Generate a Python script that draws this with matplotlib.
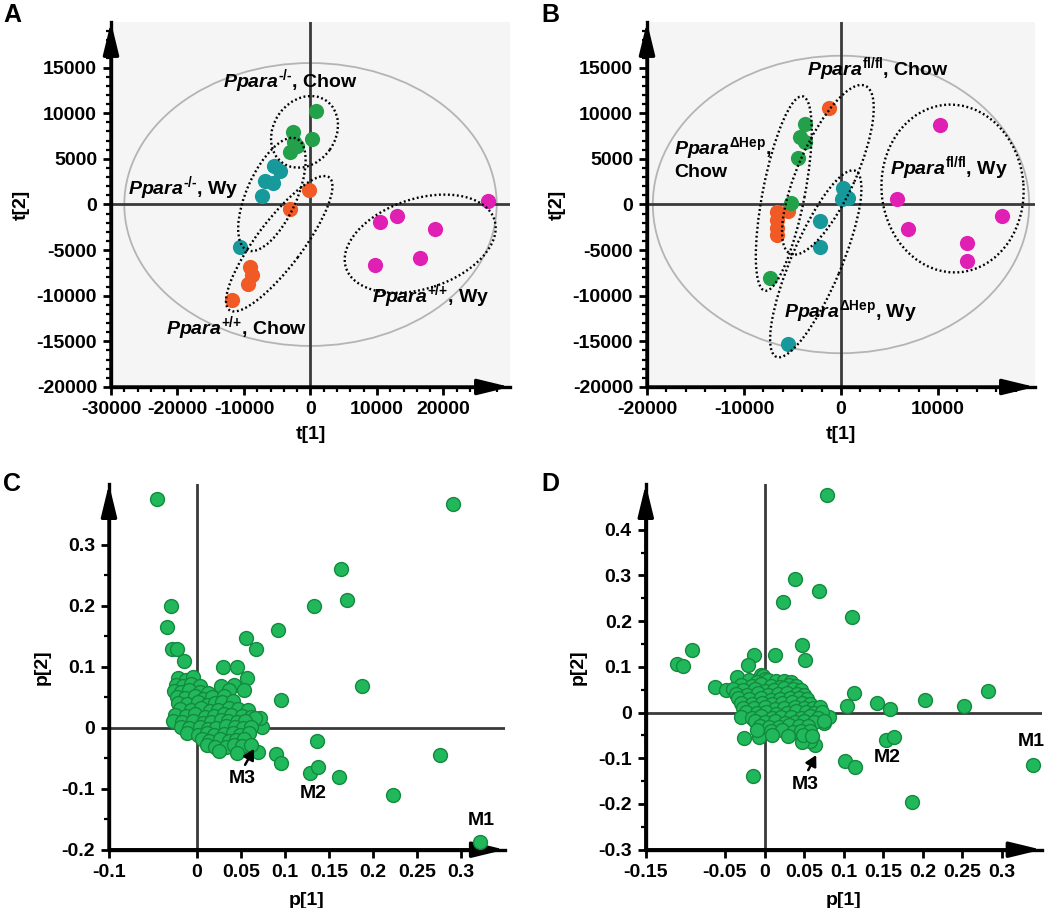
import matplotlib
matplotlib.use("Agg")
import matplotlib.pyplot as plt
import matplotlib.transforms as mtransforms
from matplotlib.patches import Ellipse

plt.rcParams['font.family'] = ['Liberation Sans', 'DejaVu Sans']
plt.rcParams['font.weight'] = 'bold'
plt.rcParams['axes.labelweight'] = 'bold'
plt.rcParams['axes.unicode_minus'] = False
plt.rcParams['mathtext.fontset'] = 'custom'
plt.rcParams['mathtext.it'] = 'Liberation Sans:italic:bold'
plt.rcParams['mathtext.rm'] = 'Liberation Sans:bold'
plt.rcParams['mathtext.bf'] = 'Liberation Sans:bold'

# ---- Panel A scores (t[1], t[2]) ----
a_ko_chow_t1 = [900, -2600, 250, -2000, -3100, -2500]
a_ko_chow_t2 = [10250, 7960, 7160, 6440, 5710, 6900]
a_ko_wy_t1 = [-5510, -4610, -6770, -5610, -7270, -10530]
a_ko_wy_t2 = [4180, 3710, 2620, 2330, 980, -4650]
a_wt_chow_t1 = [-250, -3100, -9120, -8770, -9420, -11780]
a_wt_chow_t2 = [1600, -545, -6840, -7750, -8760, -10470]
a_wt_wy_t1 = [26720, 10430, 13030, 18650, 16440, 9670]
a_wt_wy_t2 = [330, -1930, -1310, -2730, -5850, -6650]

# ---- Panel B scores ----
b_fl_chow_t1 = [-1240, -6575, -5440, -6575, -6640, -6640]
b_fl_chow_t2 = [10620, -836, -730, -1745, -2580, -3380]
b_hep_chow_t1 = [-3720, -4200, -3720, -4410, -5160, -7330]
b_hep_chow_t2 = [8870, 7350, 6800, 5090, 180, -8110]
b_hep_wy_t1 = [240, 760, 70, -2170, -2170, -5440]
b_hep_wy_t2 = [1780, 730, 620, -1820, -4650, -15270]
b_fl_wy_t1 = [10220, 5750, 6950, 16590, 12980, 12980]
b_fl_wy_t2 = [8690, 620, -2690, -1310, -4180, -6220]

# ---- Panel C loadings (p[1], p[2]) ----
c_p1 = [-0.045, 0.291, 0.164, 0.170, 0.133, -0.029, -0.034, 0.092, 0.056, 0.067,
        -0.028, -0.023, -0.015, 0.030, 0.045, 0.057, 0.042, 0.188, 0.096, 0.054,
        0.074, 0.072, 0.136, 0.090, 0.096, 0.129, 0.138, 0.162, 0.276, 0.223,
        0.322, 0.069, 0.057, 0.027, 0.036,
        -0.021, -0.012, -0.005,
        -0.024, -0.016, -0.007, 0.003,
        -0.026, -0.018, -0.009, 0.004, 0.013,
        -0.023, -0.014, -0.002, 0.007, 0.017, 0.031,
        -0.021, -0.011, 0.001, 0.011, 0.021, 0.029, 0.041,
        -0.019, -0.007, 0.005, 0.015, 0.024, 0.036, 0.047, 0.058,
        -0.025, -0.013, -0.002, 0.009, 0.019, 0.031, 0.039, 0.051, 0.062, 0.066,
        -0.027, -0.017, -0.004, 0.007, 0.016, 0.027, 0.035, 0.046, 0.055,
        -0.018, -0.009, 0.003, 0.013, 0.022, 0.033, 0.043, 0.052, 0.061,
        -0.011, 0.001, 0.011, 0.019, 0.031, 0.041, 0.049, 0.059,
        0.006, 0.014, 0.026, 0.036, 0.044, 0.054,
        0.011, 0.021, 0.033, 0.042, 0.051, 0.061,
        0.025, 0.045]
c_p2 = [0.375, 0.367, 0.260, 0.210, 0.200, 0.200, 0.165, 0.160, 0.148, 0.129,
        0.129, 0.129, 0.110, 0.100, 0.100, 0.081, 0.070, 0.069, 0.045, 0.062,
        0.002, 0.016, -0.021, -0.043, -0.058, -0.074, -0.065, -0.081, -0.045, -0.110,
        -0.187, -0.040, -0.032, 0.068, 0.062,
        0.081, 0.079, 0.083,
        0.071, 0.069, 0.072, 0.068,
        0.061, 0.058, 0.062, 0.059, 0.057,
        0.051, 0.049, 0.052, 0.048, 0.050, 0.053,
        0.041, 0.039, 0.042, 0.038, 0.041, 0.043, 0.044,
        0.031, 0.029, 0.032, 0.028, 0.030, 0.033, 0.031, 0.029,
        0.021, 0.019, 0.022, 0.018, 0.020, 0.023, 0.021, 0.019, 0.018, 0.016,
        0.011, 0.009, 0.012, 0.008, 0.010, 0.013, 0.011, 0.009, 0.012,
        0.001, -0.001, 0.002, -0.002, 0.000, 0.003, 0.001, -0.001, 0.002,
        -0.009, -0.011, -0.008, -0.012, -0.010, -0.009, -0.011, -0.008,
        -0.019, -0.021, -0.018, -0.022, -0.020, -0.019,
        -0.029, -0.031, -0.032, -0.028, -0.030, -0.029,
        -0.038, -0.041]

# ---- Panel D loadings ----
d_p1 = [0.079, 0.039, 0.069, 0.023, 0.111, 0.047, 0.051, -0.092, -0.111, -0.103,
        -0.013, -0.021, 0.013, -0.035, -0.005, -0.062, -0.049, 0.113, 0.104, 0.142,
        0.158, 0.203, 0.252, 0.282, 0.081, 0.075, 0.154, 0.163, 0.102, 0.114,
        0.186, 0.339, -0.014, -0.026, -0.007, 0.064, 0.058, 0.047,
        -0.002, 0.001,
        -0.020, -0.010, 0.005, 0.014, 0.025, 0.033,
        -0.030, -0.016, -0.004, 0.008, 0.020, 0.031, 0.040,
        -0.040, -0.027, -0.012, 0.000, 0.012, 0.024, 0.036, 0.046,
        -0.036, -0.022, -0.008, 0.004, 0.017, 0.029, 0.041, 0.050,
        -0.033, -0.019, -0.005, 0.008, 0.020, 0.032, 0.044, 0.054,
        -0.030, -0.016, -0.003, 0.010, 0.022, 0.035, 0.047, 0.058,
        -0.027, -0.013, 0.000, 0.013, 0.025, 0.038, 0.050, 0.061, 0.070,
        -0.024, -0.010, 0.002, 0.015, 0.028, 0.040, 0.052, 0.063, 0.072,
        -0.030, -0.016, -0.004, 0.009, 0.021, 0.034, 0.046, 0.058, 0.068,
        -0.012, 0.000, 0.013, 0.026, 0.038, 0.050, 0.062, 0.075,
        -0.006, 0.006, 0.018, 0.031, 0.043, 0.055,
        -0.009, 0.008, 0.022, 0.036, 0.046, 0.057,
        0.010, 0.030, 0.048, 0.060]
d_p2 = [0.476, 0.292, 0.265, 0.242, 0.210, 0.147, 0.116, 0.138, 0.106, 0.102,
        0.127, 0.105, 0.125, 0.078, 0.082, 0.055, 0.049, 0.043, 0.015, 0.021,
        0.007, 0.027, 0.015, 0.047, -0.010, -0.022, -0.060, -0.053, -0.106, -0.120,
        -0.196, -0.114, -0.138, -0.055, -0.053, -0.071, -0.062, -0.064,
        0.079, 0.074,
        0.071, 0.068, 0.072, 0.069, 0.070, 0.067,
        0.061, 0.058, 0.062, 0.059, 0.057, 0.060, 0.058,
        0.051, 0.049, 0.052, 0.048, 0.050, 0.053, 0.051, 0.049,
        0.041, 0.039, 0.042, 0.038, 0.041, 0.043, 0.040, 0.039,
        0.031, 0.029, 0.032, 0.028, 0.030, 0.033, 0.031, 0.029,
        0.021, 0.019, 0.022, 0.018, 0.020, 0.023, 0.021, 0.019,
        0.011, 0.009, 0.012, 0.008, 0.010, 0.013, 0.011, 0.009, 0.012,
        0.001, -0.001, 0.002, -0.002, 0.000, 0.003, 0.001, -0.001, 0.002,
        -0.009, -0.011, -0.008, -0.012, -0.010, -0.009, -0.011, -0.008, -0.012,
        -0.019, -0.021, -0.018, -0.022, -0.020, -0.019, -0.021, -0.018,
        -0.029, -0.031, -0.032, -0.028, -0.030, -0.029,
        -0.039, -0.041, -0.038, -0.042, -0.040, -0.041,
        -0.049, -0.051, -0.048, -0.052]

# tick values
a_xticks = [-30000, -20000, -10000, 0, 10000, 20000]
b_xticks = [-20000, -10000, 0, 10000]
ab_yticks = [-20000, -15000, -10000, -5000, 0, 5000, 10000, 15000]
c_xticks = [-0.1, 0, 0.05, 0.1, 0.15, 0.2, 0.25, 0.3]
c_yticks = [-0.2, -0.1, 0, 0.1, 0.2, 0.3]
d_xticks = [-0.15, -0.05, 0, 0.05, 0.1, 0.15, 0.2, 0.25, 0.3]
d_yticks = [-0.3, -0.2, -0.1, 0, 0.1, 0.2, 0.3, 0.4]

# Hotelling T2 ellipses (data units: half width, half height)
a_t2_radius = (28000, 15500)
b_t2_radius = (19400, 16300)

# hand drawn group rings: centre (data), semi axes (px), tilt (deg)
a_ring_center = [(-900, 7960), (-5800, 1100), (-4700, -4300), (16500, -4300)]
a_ring_axes = [(38, 31, 55), (61, 25, 66), (83, 23, 53), (78, 45, 18)]
b_ring_center = [(-5900, 1200), (-1350, 3800), (-2600, -6500), (11500, 1750)]
b_ring_axes = [(99, 21, 79), (92, 29, 66), (101, 25, 67), (84, 71, 95)]

green = '#22a04a'
teal = '#17999b'
orange = '#f15a24'
magenta = '#e020b2'
load_face = '#20b85a'
load_edge = '#138a3e'

fig = plt.figure(figsize=(10.5, 9.08), dpi=100)
ax_a = fig.add_axes([0.1057, 0.5738, 0.380, 0.402])
ax_b = fig.add_axes([0.6162, 0.5738, 0.3695, 0.402])
ax_c = fig.add_axes([0.1038, 0.0642, 0.377, 0.4027])
ax_d = fig.add_axes([0.6150, 0.0642, 0.377, 0.4027])


def fmt(v):
    return '%g' % v


def style_axes(ax, gray, xt, yt):
    ax.set_facecolor('#f5f5f5' if gray else 'white')
    ax.spines['top'].set_visible(False)
    ax.spines['right'].set_visible(False)
    ax.spines['left'].set_linewidth(2.4)
    ax.spines['bottom'].set_linewidth(2.4)
    ax.set_xticks(xt, labels=[fmt(v) for v in xt], fontweight='bold')
    ax.set_yticks(yt, labels=[fmt(v) for v in yt], fontweight='bold')
    ax.tick_params(which='major', length=6, width=2, labelsize=14, pad=4)
    ax.tick_params(which='minor', length=3.5, width=1.6)
    ax.axhline(0, color='#3a3a3a', lw=2, zorder=1.5)
    ax.axvline(0, color='#3a3a3a', lw=2, zorder=1.5)
    arrow = dict(arrowstyle='-|>,head_length=1.4,head_width=0.34', lw=2.4,
                 color='k', shrinkA=0, shrinkB=0, mutation_scale=14)
    ax.annotate('', xy=(0, 1.0), xytext=(0, 0), xycoords='axes fraction',
                arrowprops=arrow, annotation_clip=False)
    ax.annotate('', xy=(1.0, 0), xytext=(0, 0), xycoords='axes fraction',
                arrowprops=arrow, annotation_clip=False)


def ring(ax, center, axes_px):
    a, b, ang = axes_px
    tr = (mtransforms.Affine2D().scale(fig.dpi / 100)
          + mtransforms.ScaledTranslation(center[0], center[1], ax.transData))
    ax.add_patch(Ellipse((0, 0), 2 * a, 2 * b, angle=ang, transform=tr, fill=False,
                         color='k', lw=1.7, ls=(0, (0.8, 1.1)), zorder=4))


def small_arrow(ax, tail, head):
    ax.annotate('', xy=head, xytext=tail, zorder=5,
                arrowprops=dict(arrowstyle='-|>,head_length=0.45,head_width=0.25', color='k',
                                lw=1.8, shrinkA=0, shrinkB=0, mutation_scale=14))


HY = '\u2010'
ko = r'$\mathit{Ppara}^{\mathrm{' + HY + '/' + HY + '}}$'
wt = r'$\mathit{Ppara}^{\mathrm{{+}/{+}}}$'
fl = r'$\mathit{Ppara}^{\mathrm{fl/fl}}$'
hep = r'$\mathit{Ppara}^{\mathrm{\Delta Hep}}$'

# ---------------- A ----------------
ax = ax_a
ax.set_xlim(-30000, 30000)
ax.set_ylim(-20000, 20000)
style_axes(ax, True, a_xticks, ab_yticks)
ax.set_xticks(range(-30000, 30000, 2000), minor=True)
ax.set_yticks(range(-20000, 20000, 1000), minor=True)
ax.add_patch(Ellipse((0, 0), 2 * a_t2_radius[0], 2 * a_t2_radius[1], fill=False,
                     color='#b4b4b4', lw=1.3, zorder=1))
ax.scatter(a_ko_chow_t1, a_ko_chow_t2, s=120, color=green, lw=0, zorder=3)
ax.scatter(a_ko_wy_t1, a_ko_wy_t2, s=120, color=teal, lw=0, zorder=3)
ax.scatter(a_wt_chow_t1, a_wt_chow_t2, s=120, color=orange, lw=0, zorder=3)
ax.scatter(a_wt_wy_t1, a_wt_wy_t2, s=120, color=magenta, lw=0, zorder=3)
for c, e in zip(a_ring_center, a_ring_axes):
    ring(ax, c, e)
ax.text(-13100, 13500, ko + ', Chow', fontsize=14, va='center', zorder=5)
ax.text(-27400, 1750, ko + ', Wy', fontsize=14, va='center', zorder=5)
ax.text(-21700, -13500, wt + ', Chow', fontsize=14, va='center', zorder=5)
ax.text(9200, -10050, wt + ', Wy', fontsize=14, va='center', zorder=5)
ax.set_xlabel('t[1]', fontsize=14, labelpad=6)
ax.set_ylabel('t[2]', fontsize=14, labelpad=5)

# ---------------- B ----------------
ax = ax_b
ax.set_xlim(-20000, 20000)
ax.set_ylim(-20000, 20000)
style_axes(ax, True, b_xticks, ab_yticks)
ax.set_xticks(range(-20000, 20000, 2000), minor=True)
ax.set_yticks(range(-20000, 20000, 1000), minor=True)
ax.add_patch(Ellipse((0, 0), 2 * b_t2_radius[0], 2 * b_t2_radius[1], fill=False,
                     color='#b4b4b4', lw=1.3, zorder=1))
ax.scatter(b_fl_chow_t1, b_fl_chow_t2, s=120, color=orange, lw=0, zorder=3)
ax.scatter(b_hep_chow_t1, b_hep_chow_t2, s=120, color=green, lw=0, zorder=3)
ax.scatter(b_hep_wy_t1, b_hep_wy_t2, s=120, color=teal, lw=0, zorder=3)
ax.scatter(b_fl_wy_t1, b_fl_wy_t2, s=120, color=magenta, lw=0, zorder=3)
for c, e in zip(b_ring_center, b_ring_axes):
    ring(ax, c, e)
ax.text(-3500, 14850, fl + ', Chow', fontsize=14, va='center', zorder=5)
ax.text(-17200, 6200, hep + ',', fontsize=14, va='center', zorder=5)
ax.text(-17200, 3500, 'Chow', fontsize=14, va='center', zorder=5)
ax.text(5100, 4040, fl + ', Wy', fontsize=14, va='center', zorder=5)
ax.text(-5900, -11700, hep + ', Wy', fontsize=14, va='center', zorder=5)
ax.set_xlabel('t[1]', fontsize=14, labelpad=6)
ax.set_ylabel('t[2]', fontsize=14, labelpad=5)

# ---------------- C ----------------
ax = ax_c
ax.set_xlim(-0.1, 0.35)
ax.set_ylim(-0.2, 0.4)
style_axes(ax, False, c_xticks, c_yticks)
ax.set_yticks([-0.15, -0.05, 0.05, 0.15, 0.25, 0.35], minor=True)
ax.scatter(c_p1, c_p2, s=100, color=load_face, edgecolor=load_edge, lw=1, zorder=3, clip_on=False)
small_arrow(ax, (0.0547, -0.0607), (0.0649, -0.0344))
ax.text(0.051, -0.0825, 'M3', fontsize=14, ha='center', va='center')
ax.text(0.132, -0.107, 'M2', fontsize=14, ha='center', va='center')
ax.text(0.323, -0.152, 'M1', fontsize=14, ha='center', va='center')
ax.set_xlabel('p[1]', fontsize=14, labelpad=8)
ax.set_ylabel('p[2]', fontsize=14, labelpad=8)

# ---------------- D ----------------
ax = ax_d
ax.set_xlim(-0.15, 0.35)
ax.set_ylim(-0.3, 0.5)
style_axes(ax, False, d_xticks, d_yticks)
ax.set_yticks([-0.25, -0.15, -0.05, 0.05, 0.15, 0.25, 0.35, 0.45], minor=True)
ax.scatter(d_p1, d_p2, s=100, color=load_face, edgecolor=load_edge, lw=1, zorder=3, clip_on=False)
small_arrow(ax, (0.0552, -0.1258), (0.0653, -0.093))
ax.text(0.051, -0.157, 'M3', fontsize=14, ha='center', va='center')
ax.text(0.1544, -0.098, 'M2', fontsize=14, ha='center', va='center')
ax.text(0.3364, -0.064, 'M1', fontsize=14, ha='center', va='center')
ax.set_xlabel('p[1]', fontsize=14, labelpad=8)
ax.set_ylabel('p[2]', fontsize=14, labelpad=8)

# panel letters
fig.text(12 / 1050, 1 - 15 / 908, 'A', fontsize=18, ha='center', va='center')
fig.text(550 / 1050, 1 - 15 / 908, 'B', fontsize=18, ha='center', va='center')
fig.text(12 / 1050, 1 - 484 / 908, 'C', fontsize=18, ha='center', va='center')
fig.text(550 / 1050, 1 - 484 / 908, 'D', fontsize=18, ha='center', va='center')

fig.savefig('out.png', dpi=100)
